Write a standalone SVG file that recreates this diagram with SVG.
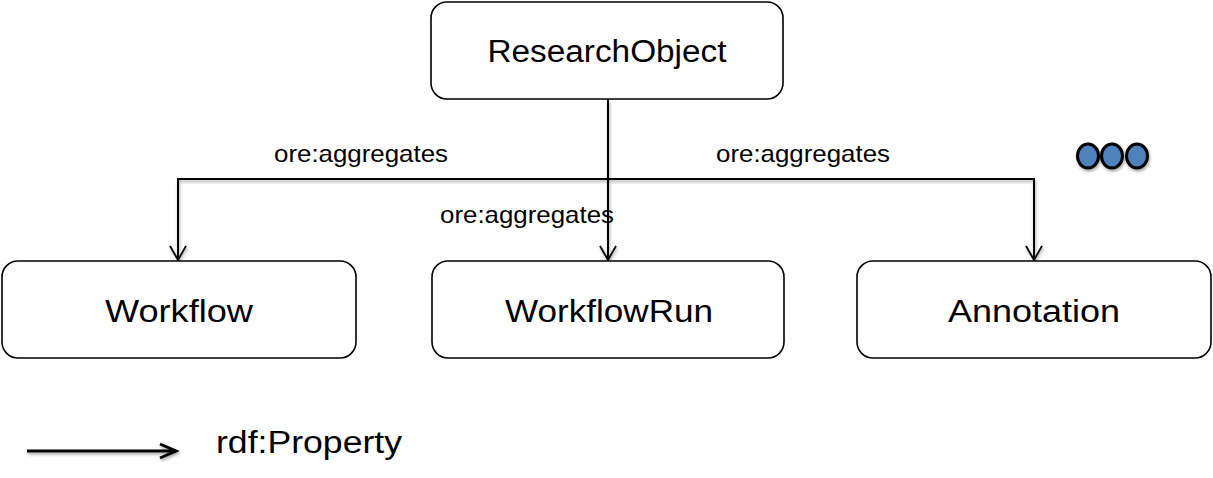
<svg xmlns="http://www.w3.org/2000/svg" width="1213" height="478" viewBox="0 0 1213 478">
<style>
.node{fill:#fff;stroke:#000;stroke-width:1.6}
.nl{font-family:"Liberation Sans",Arial,sans-serif;font-size:31px;fill:#000;text-anchor:middle}
.el{font-family:"Liberation Sans",Arial,sans-serif;font-size:24px;fill:#000}
.conn{fill:none;stroke:#000;stroke-width:2}
</style>
<defs>
<marker id="arr" markerWidth="20" markerHeight="20" viewBox="0 0 20 20" refX="16" refY="10" orient="auto" markerUnits="userSpaceOnUse">
<path d="M2,2 L16,10 L2,18" fill="none" stroke="#000" stroke-width="1.8"/>
</marker>
<marker id="arr2" markerWidth="24" markerHeight="24" viewBox="0 0 24 24" refX="20" refY="12" orient="auto" markerUnits="userSpaceOnUse">
<path d="M4,5 L20,12 L4,19" fill="none" stroke="#000" stroke-width="3"/>
</marker>
<filter id="sh" x="-20%" y="-20%" width="140%" height="160%">
<feGaussianBlur in="SourceAlpha" stdDeviation="1.5"/>
<feOffset dx="1" dy="2" result="b"/>
<feComponentTransfer><feFuncA type="linear" slope="0.35"/></feComponentTransfer>
<feMerge><feMergeNode/><feMergeNode in="SourceGraphic"/></feMerge>
</filter>
<filter id="sh2" filterUnits="userSpaceOnUse" x="10" y="430" width="190" height="45">
<feGaussianBlur in="SourceAlpha" stdDeviation="1.5"/>
<feOffset dx="1" dy="2" result="b"/>
<feComponentTransfer><feFuncA type="linear" slope="0.35"/></feComponentTransfer>
<feMerge><feMergeNode/><feMergeNode in="SourceGraphic"/></feMerge>
</filter>
</defs>
<g id="connectors" filter="url(#sh)">
<path class="conn" d="M608,99 V260" marker-end="url(#arr)"/>
<path class="conn" d="M608,179 H178 V260" marker-end="url(#arr)"/>
<path class="conn" d="M608,179 H1034 V260" marker-end="url(#arr)"/>
</g>
<g id="labels">
<text class="el" x="274" y="162" textLength="174" lengthAdjust="spacingAndGlyphs">ore:aggregates</text>
<text class="el" x="440" y="223" textLength="174" lengthAdjust="spacingAndGlyphs">ore:aggregates</text>
<text class="el" x="716" y="162" textLength="174" lengthAdjust="spacingAndGlyphs">ore:aggregates</text>
</g>
<g id="ResearchObject">
<rect class="node" x="431" y="2" width="352" height="97" rx="16"/>
<text class="nl" x="607" y="62" textLength="239" lengthAdjust="spacingAndGlyphs">ResearchObject</text>
</g>
<g id="Workflow">
<rect class="node" x="2" y="261" width="354" height="97" rx="16"/>
<text class="nl" x="179" y="322" textLength="148" lengthAdjust="spacingAndGlyphs">Workflow</text>
</g>
<g id="WorkflowRun">
<rect class="node" x="432" y="261" width="352" height="97" rx="16"/>
<text class="nl" x="609" y="322" textLength="208" lengthAdjust="spacingAndGlyphs">WorkflowRun</text>
</g>
<g id="Annotation">
<rect class="node" x="857" y="261" width="354" height="97" rx="16"/>
<text class="nl" x="1034" y="322" textLength="172" lengthAdjust="spacingAndGlyphs">Annotation</text>
</g>
<g id="more" filter="url(#sh)">
<ellipse cx="1088" cy="156" rx="10.5" ry="12" fill="#4F81BD" stroke="#000" stroke-width="3"/>
<ellipse cx="1112" cy="156" rx="10.5" ry="12" fill="#4F81BD" stroke="#000" stroke-width="3"/>
<ellipse cx="1137" cy="156" rx="10.5" ry="12" fill="#4F81BD" stroke="#000" stroke-width="3"/>
</g>
<g id="legend">
<path d="M27,451 H176" stroke="#000" stroke-width="3" fill="none" marker-end="url(#arr2)" filter="url(#sh2)"/>
<text class="nl" x="216" y="453" style="text-anchor:start" textLength="186" lengthAdjust="spacingAndGlyphs">rdf:Property</text>
</g>
</svg>
